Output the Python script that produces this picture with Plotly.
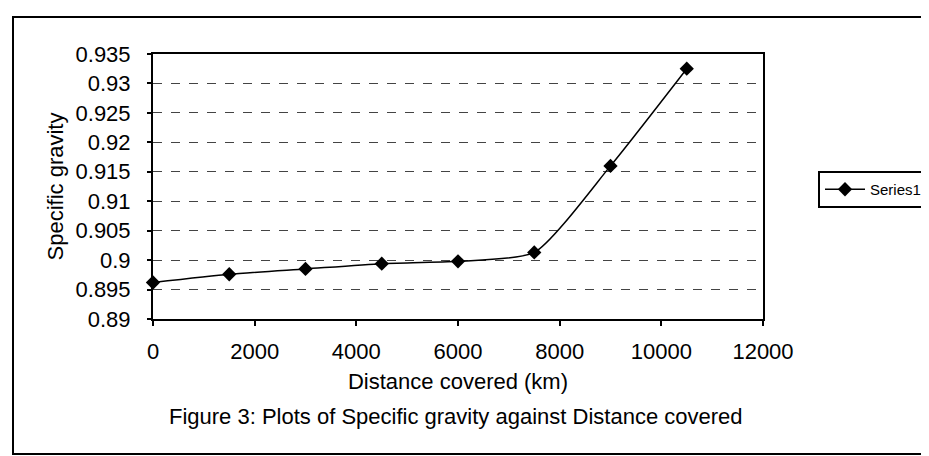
import plotly.graph_objects as go

distance_km = [0, 1500, 3000, 4500, 6000, 7500, 9000, 10500]
specific_gravity = [0.8962, 0.8976, 0.8985, 0.8994, 0.8998, 0.9013, 0.9160, 0.9325]
series_name = "Series1"

x_tick_vals = [0, 2000, 4000, 6000, 8000, 10000, 12000]
x_tick_text = ["0", "2000", "4000", "6000", "8000", "10000", "12000"]
y_tick_vals = [0.89, 0.895, 0.9, 0.905, 0.91, 0.915, 0.92, 0.925, 0.93, 0.935]
y_tick_text = ["0.89", "0.895", "0.9", "0.905", "0.91", "0.915", "0.92", "0.925", "0.93", "0.935"]

x_title = "Distance covered (km)"
y_title = "Specific gravity"
caption = "Figure 3: Plots of Specific gravity against Distance covered"

W, H = 929, 456
L, R, T, B = 145, 174, 46, 145
pw, ph = W - L - R, H - T - B

def px_x(px):
    return (px - L) / pw

def px_y(py):
    return (H - B - py) / ph

FONT = "Liberation Sans, Arial, sans-serif"

fig = go.Figure()
fig.add_trace(go.Scatter(
    x=distance_km, y=specific_gravity, name=series_name,
    mode="lines+markers",
    line=dict(color="black", width=1.5, shape="spline", smoothing=0.6),
    marker=dict(symbol="diamond", size=11, color="black"),
    cliponaxis=False,
))

fig.update_layout(
    width=W, height=H,
    margin=dict(l=L, r=R, t=T, b=B, autoexpand=False),
    paper_bgcolor="white", plot_bgcolor="white",
    font=dict(family=FONT, size=22, color="black"),
    showlegend=True,
    legend=dict(
        x=px_x(810), y=px_y(163), xanchor="left", yanchor="top",
        bordercolor="black", borderwidth=2, bgcolor="white",
        font=dict(family="Liberation Sans Narrow, Liberation Sans, Arial", size=15, color="black"),
        itemwidth=40, tracegroupgap=0,
    ),
    xaxis=dict(
        range=[0, 12000], tickvals=x_tick_vals, ticktext=x_tick_text,
        showgrid=False, zeroline=False,
        showline=True, linecolor="black", linewidth=2, mirror=True,
        ticks="outside", ticklen=5, tickcolor="black", tickwidth=1.5,
        ticklabelstandoff=7,
        tickfont=dict(size=22),
        title=dict(text=x_title, font=dict(size=22), standoff=10),
    ),
    yaxis=dict(
        range=[0.89, 0.935], tickvals=y_tick_vals, ticktext=y_tick_text,
        showgrid=True, gridcolor="#444444", gridwidth=1, griddash="dash",
        zeroline=False,
        showline=True, linecolor="black", linewidth=2, mirror=True,
        ticks="outside", ticklen=4, tickcolor="black", tickwidth=1.5,
        ticklabelstandoff=12,
        tickfont=dict(size=22),
        title=dict(text=y_title, font=dict(size=22), standoff=6),
    ),
)

fig.add_annotation(
    text=caption, xref="paper", yref="paper",
    x=px_x(448), y=px_y(408), xanchor="center", yanchor="middle",
    showarrow=False, font=dict(family=FONT, size=22, color="black"),
)

# outer chart frame
fig.add_shape(
    type="rect", xref="paper", yref="paper",
    x0=px_x(5), x1=px_x(940), y0=px_y(446), y1=px_y(9),
    line=dict(color="black", width=2), layer="below",
)

fig.write_html("out.html")
